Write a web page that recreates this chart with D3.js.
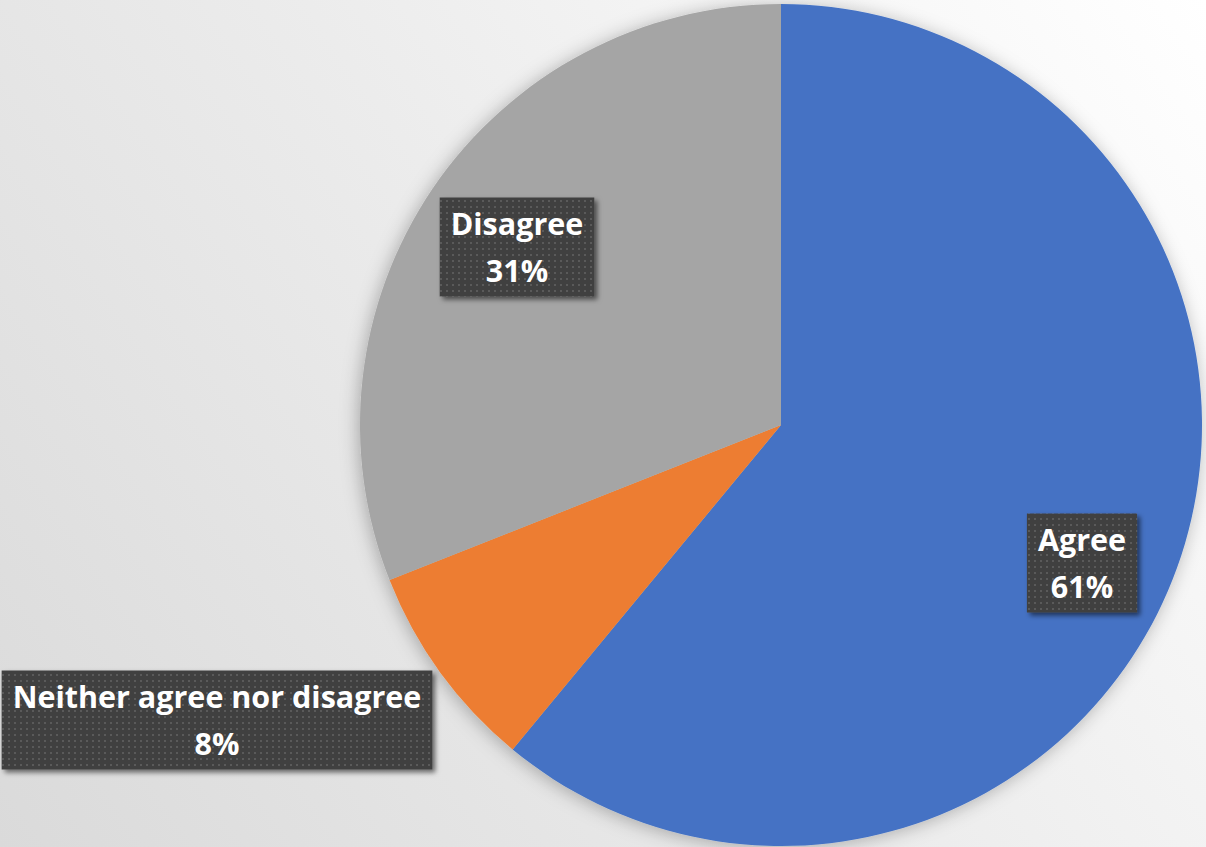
<!DOCTYPE html>
<html>
<head>
<meta charset="utf-8">
<script src="https://cdn.jsdelivr.net/npm/d3@7"></script>
<style>
  html, body { margin: 0; padding: 0; background: #fff; }
  svg { display: block; }
</style>
</head>
<body>
<svg id="chart" width="1206" height="847"></svg>
<script>
// Survey responses (share of respondents, %)
const categories = ["Agree", "Neither agree nor disagree", "Disagree"];
const values = [61, 8, 31];
const colors = ["#4472C4", "#ED7D31", "#A5A5A5"];

const W = 1206, H = 847;
const cx = 781, cy = 425, R = 421;

const svg = d3.select("#chart");
const defs = svg.append("defs");

// Soft background wash, bright in the upper right
const bg = defs.append("linearGradient").attr("id", "bgGrad")
  .attr("gradientUnits", "userSpaceOnUse")
  .attr("x1", W).attr("y1", 0).attr("x2", 0).attr("y2", H);
bg.append("stop").attr("offset", "0%").attr("stop-color", "#ffffff");
bg.append("stop").attr("offset", "50%").attr("stop-color", "#ececec");
bg.append("stop").attr("offset", "100%").attr("stop-color", "#dadada");

// Glow-like shadow around the pie
const pieShadow = defs.append("filter").attr("id", "pieShadow")
  .attr("x", "-10%").attr("y", "-10%").attr("width", "120%").attr("height", "120%");
pieShadow.append("feDropShadow").attr("dx", -2).attr("dy", 2)
  .attr("stdDeviation", 9).attr("flood-color", "#000").attr("flood-opacity", 0.28);

// Drop shadow for label boxes
const boxShadow = defs.append("filter").attr("id", "boxShadow")
  .attr("x", "-10%").attr("y", "-10%").attr("width", "130%").attr("height", "140%");
boxShadow.append("feDropShadow").attr("dx", 3).attr("dy", 3)
  .attr("stdDeviation", 2.5).attr("flood-color", "#000").attr("flood-opacity", 0.55);

// Dotted texture for label boxes
const pat = defs.append("pattern").attr("id", "dots")
  .attr("patternUnits", "userSpaceOnUse").attr("width", 6).attr("height", 6);
pat.append("rect").attr("width", 6).attr("height", 6).attr("fill", "#404040");
pat.append("rect").attr("x", 2).attr("y", 2).attr("width", 2).attr("height", 2).attr("fill", "#5a5a5a");

svg.append("rect").attr("width", W).attr("height", H).attr("fill", "url(#bgGrad)");

const data = categories.map((c, i) => ({ category: c, value: values[i], color: colors[i] }));

const pie = d3.pie().value(d => d.value).sort(null);
const arcs = pie(data);
const arc = d3.arc().innerRadius(0).outerRadius(R);

const g = svg.append("g").attr("transform", `translate(${cx},${cy})`);
g.append("g").attr("filter", "url(#pieShadow)")
  .selectAll("path").data(arcs).join("path")
  .attr("d", arc)
  .attr("fill", d => d.data.color);

// Data labels: category name and percentage on a dark textured box
const labelPos = {
  "Agree": { x: 1082, y: 563 },
  "Neither agree nor disagree": { x: 217, y: 720 },
  "Disagree": { x: 517, y: 247 }
};
const fmt = d => d + "%";
const fontSize = 30.5, lineGap = 47, padX = 11, boxH = 99;

const labels = svg.append("g");
arcs.forEach(a => {
  const p = labelPos[a.data.category];
  const lg = labels.append("g");
  const t = lg.append("text")
    .attr("text-anchor", "middle")
    .attr("font-family", "'Open Sans', 'Liberation Sans', sans-serif")
    .attr("font-weight", 700)
    .attr("font-size", fontSize)
    .attr("fill", "#ffffff");
  t.append("tspan").attr("x", p.x).attr("y", p.y - lineGap / 2 + 11.5).text(a.data.category);
  t.append("tspan").attr("x", p.x).attr("y", p.y + lineGap / 2 + 11.5).text(fmt(a.data.value));
  const w = Math.max(...t.selectAll("tspan").nodes().map(n => n.getComputedTextLength()));
  lg.insert("rect", "text")
    .attr("x", p.x - w / 2 - padX).attr("y", p.y - boxH / 2)
    .attr("width", w + 2 * padX).attr("height", boxH)
    .attr("fill", "url(#dots)")
    .attr("filter", "url(#boxShadow)");
});
</script>
</body>
</html>
